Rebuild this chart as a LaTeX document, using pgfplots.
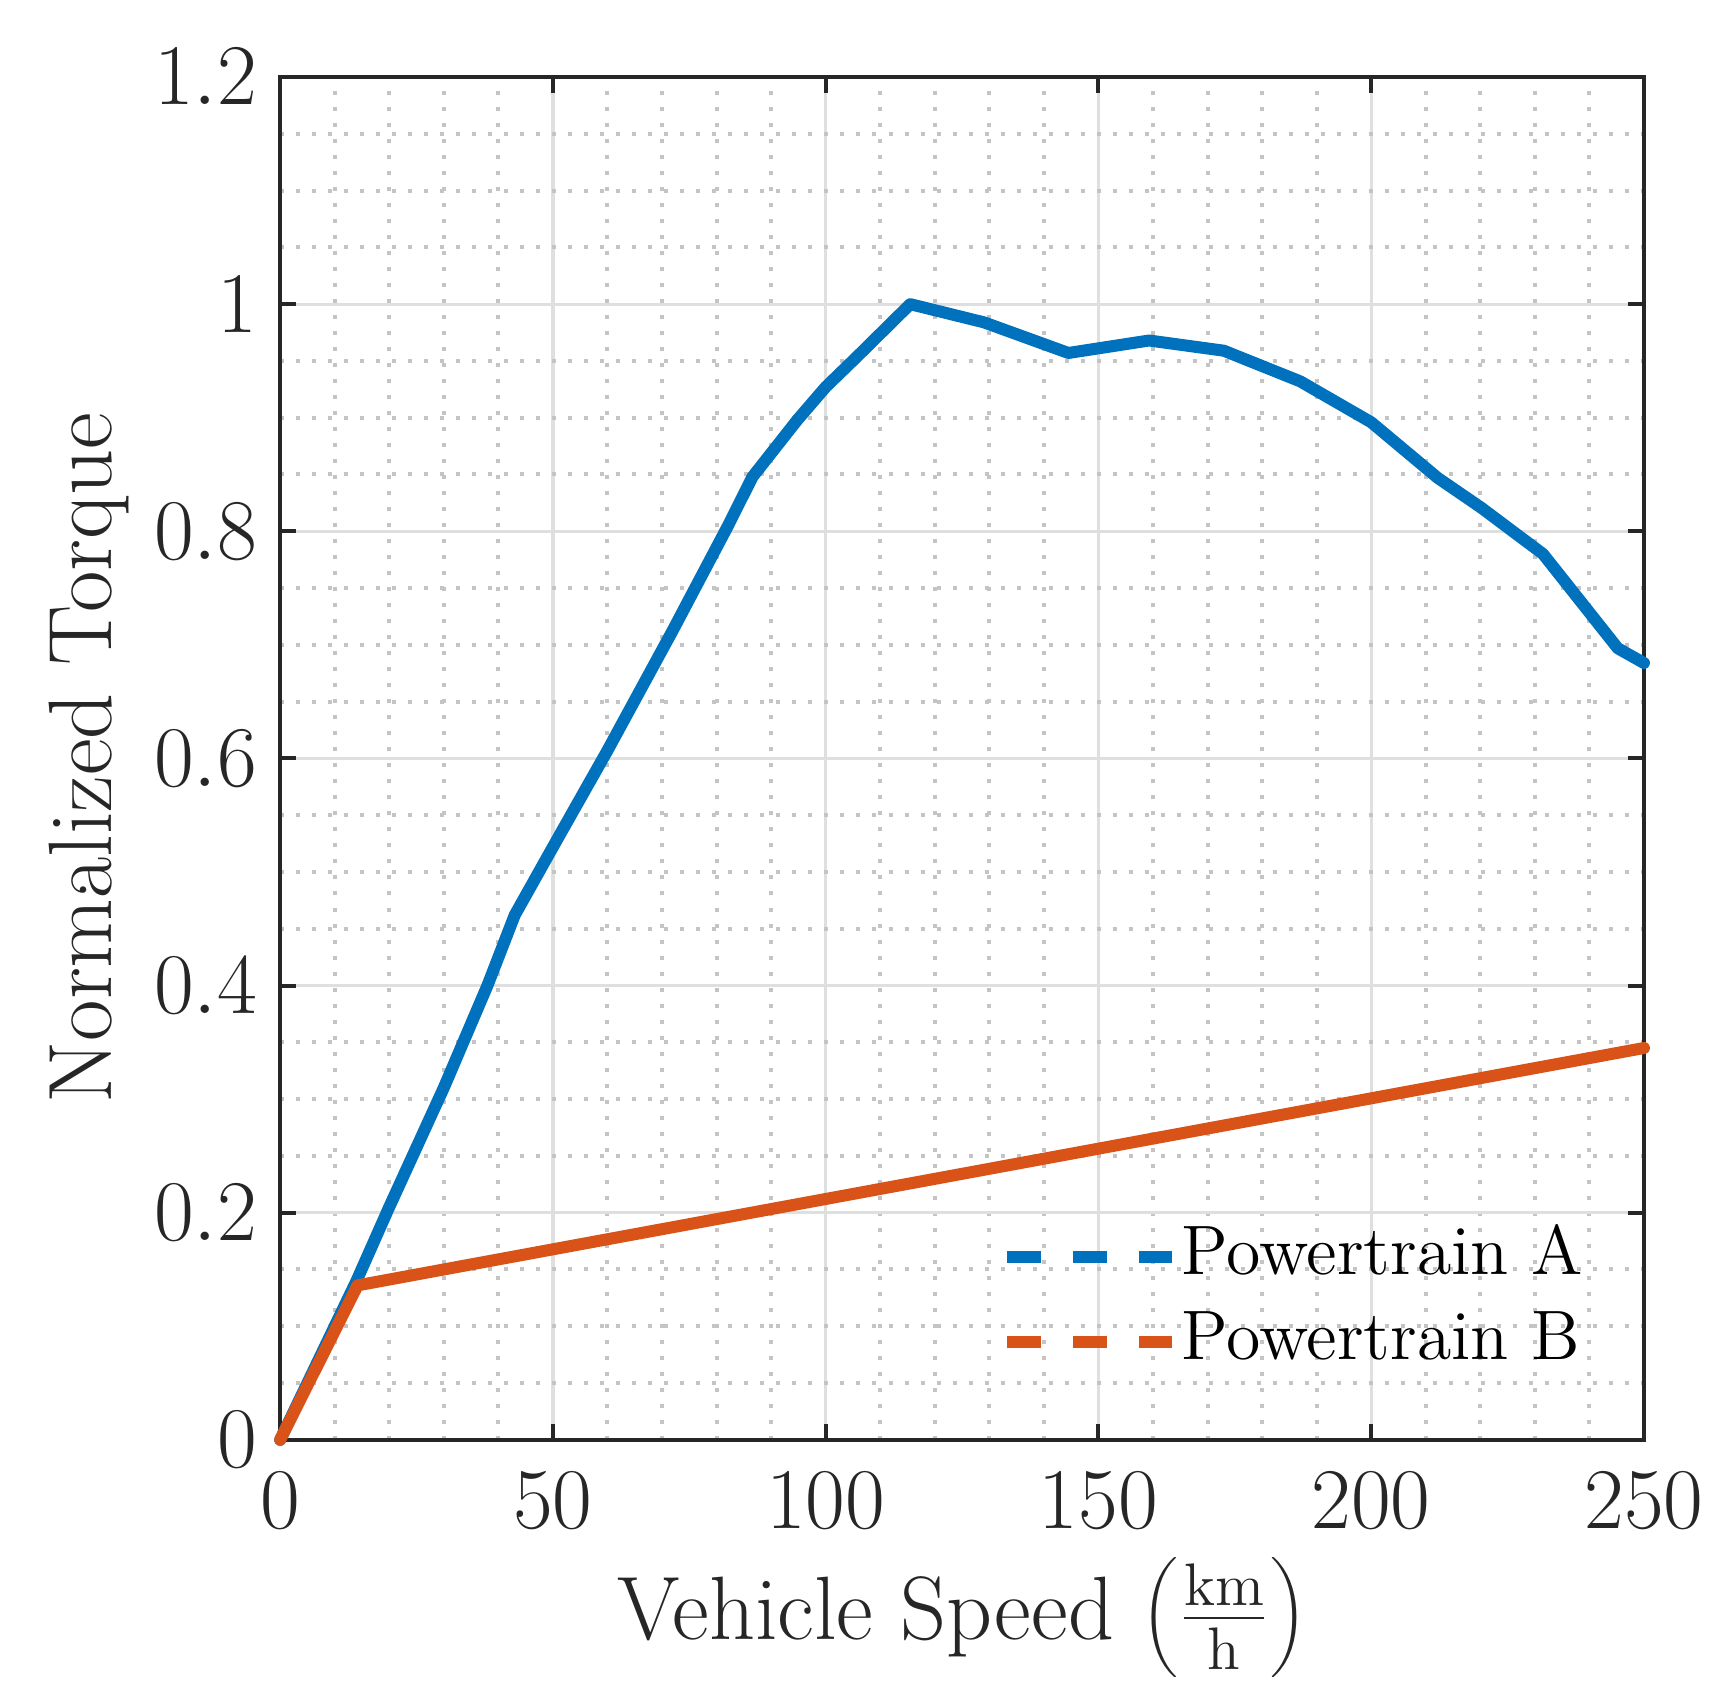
\documentclass[border=0pt]{standalone}
\usepackage{pgfplots}
\pgfplotsset{compat=1.18}

\definecolor{mblue}{RGB}{0,114,189}
\definecolor{morange}{RGB}{217,83,25}
\definecolor{axgray}{RGB}{38,38,38}
\definecolor{gridmajor}{RGB}{223,223,223}
\definecolor{gridminor}{RGB}{196,196,196}

\begin{document}
\begin{tikzpicture}
\begin{axis}[
  scale only axis,
  width=272.6pt, height=272.4pt,
  xmin=0, xmax=250, ymin=0, ymax=1.2,
  xtick={0,50,...,250},
  ytick={0,0.2,0.4,0.6,0.8,1,1.2},
  minor x tick num=4, minor y tick num=3,
  grid=both,
  major grid style={color=gridmajor, line width=0.65pt},
  minor grid style={color=gridminor, line width=0.8pt, dash pattern=on 0.8pt off 2.4pt},
  axis line style={color=axgray, line width=0.8pt},
  tick align=inside,
  major tick length=3.2pt, minor tick length=0pt,
  tick style={color=axgray, line width=0.8pt},
  ticklabel style={font=\fontsize{16}{19}\selectfont, color=axgray},
  xticklabel style={yshift=-3pt},
  yticklabel style={xshift=-1.1pt},
  xlabel={Vehicle Speed $\left(\frac{\mathrm{km}}{\mathrm{h}}\right)$},
  ylabel={Normalized Torque},
  label style={font=\fontsize{18}{21}\selectfont, color=axgray},
  xlabel style={at={(axis description cs:0.5,-0.1307)}, anchor=center},
  ylabel style={at={(axis description cs:-0.1403,0.5)}, anchor=center},
  clip=false,
  legend cell align=left,
  legend style={draw=none, fill=none, inner sep=0pt,
    at={(axis description cs:0.528,0.166)}, anchor=north west,
    font=\fontsize{14}{17}\selectfont,
    nodes={text height=10pt, text depth=3pt, inner ysep=2pt, inner xsep=0.7pt}},
  legend image code/.code={\draw[#1, dash pattern=on 6.7pt off 6.5pt, line cap=butt] (0pt,0pt) -- (33pt,0pt);},
]
\addplot[color=mblue, line width=2.4pt, line join=round, line cap=round] coordinates {
(0,0) (14,0.140) (20,0.205) (30,0.310) (38,0.400) (43,0.462) (50,0.522)
(60,0.607) (72,0.713) (82,0.804) (86.6,0.848)
(94.8,0.898) (100,0.927) (105.8,0.954) (115.5,1.000) (129,0.984)
(144.5,0.957) (159.3,0.968) (173,0.959) (187,0.932) (200,0.896)
(212.2,0.847) (220.1,0.821) (231.5,0.780) (245.2,0.697) (250,0.684)
};
\addlegendentry{Powertrain A}
\addplot[color=morange, line width=2.4pt, line join=round, line cap=round] coordinates {
(0,0) (14.2,0.136) (250,0.345)
};
\addlegendentry{Powertrain B}
\end{axis}
\pgfresetboundingbox
\path ([xshift=-56pt,yshift=-51.2pt]current axis.south west) rectangle ([xshift=17.4pt,yshift=15.4pt]current axis.north east);
\end{tikzpicture}
\end{document}
